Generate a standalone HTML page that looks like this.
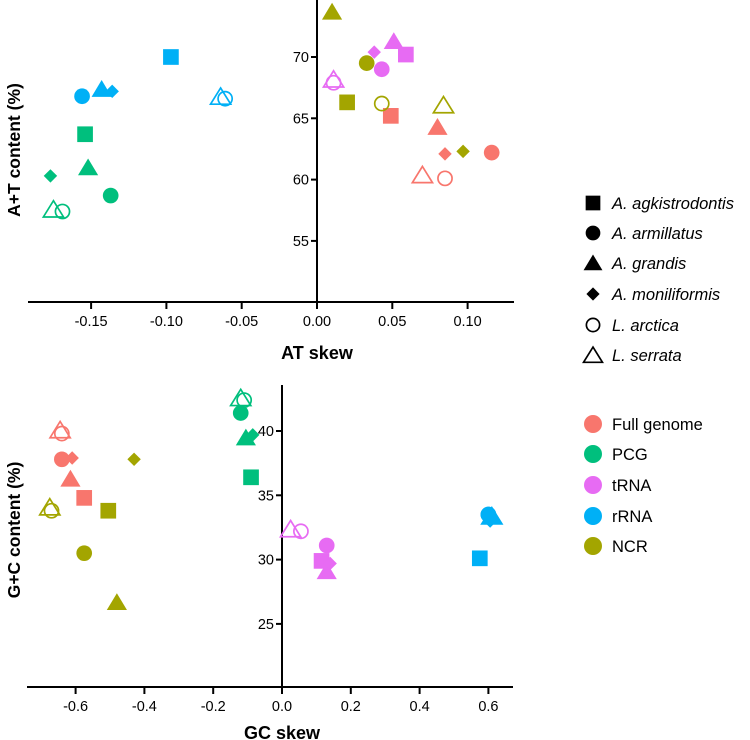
<!DOCTYPE html>
<html><head><meta charset="utf-8"><style>
html,body{margin:0;padding:0;background:#fff;}
svg{display:block;font-family:"Liberation Sans",Arial,sans-serif;}
</style></head><body>
<svg id="chart" width="750" height="740" viewBox="0 0 750 740"></svg>
<script>
const groups = ["Full genome","PCG","tRNA","rRNA","NCR"];
const groupColors = ["#F8766D","#00BF7D","#E76BF3","#00B0F6","#A3A500"];
const species = ["A. agkistrodontis","A. armillatus","A. grandis","A. moniliformis","L. arctica","L. serrata"];
const shapes = ["square","circle","triangle","diamond","ocircle","otriangle"];
// top panel: AT skew vs A+T content, index [group][species]
const atSkew = [
 [0.049,0.116,0.080,0.085,0.085,0.070],
 [-0.154,-0.137,-0.152,-0.177,-0.169,-0.175],
 [0.059,0.043,0.051,0.038,0.011,0.011],
 [-0.097,-0.156,-0.143,-0.136,-0.061,-0.064],
 [0.020,0.033,0.010,0.097,0.043,0.084]
];
const atContent = [
 [65.2,62.2,64.2,62.1,60.1,60.3],
 [63.7,58.7,60.9,60.3,57.4,57.5],
 [70.2,69.0,71.2,70.4,67.9,68.1],
 [70.0,66.8,67.3,67.2,66.6,66.7],
 [66.3,69.5,73.6,62.3,66.2,66.0]
];
// bottom panel: GC skew vs G+C content
const gcSkew = [
 [-0.575,-0.640,-0.615,-0.610,-0.640,-0.645],
 [-0.090,-0.120,-0.105,-0.085,-0.110,-0.120],
 [0.115,0.130,0.130,0.140,0.055,0.025],
 [0.575,0.600,0.610,0.605,0.600,0.610],
 [-0.505,-0.575,-0.480,-0.430,-0.670,-0.675]
];
const gcContent = [
 [34.8,37.8,36.2,37.9,39.8,40.0],
 [36.4,41.4,39.4,39.7,42.4,42.5],
 [29.9,31.1,29.0,29.7,32.2,32.3],
 [30.1,33.5,33.3,33.0,33.5,33.3],
 [33.8,30.5,26.6,37.8,33.8,34.0]
];
const topXTicks = [-0.15,-0.10,-0.05,0.00,0.05,0.10];
const topXLabels = ["-0.15","-0.10","-0.05","0.00","0.05","0.10"];
const topYTicks = [55,60,65,70];
const botXTicks = [-0.6,-0.4,-0.2,0.0,0.2,0.4,0.6];
const botXLabels = ["-0.6","-0.4","-0.2","0.0","0.2","0.4","0.6"];
const botYTicks = [25,30,35,40];

const NS="http://www.w3.org/2000/svg";
const svg=document.getElementById('chart');
function mk(tag,attrs,parent){const e=document.createElementNS(NS,tag);for(const k in attrs)e.setAttribute(k,attrs[k]);(parent||svg).appendChild(e);return e;}

const tx=v=>317+(v/0.05)*75.3;
const ty=v=>57+(70-v)/5*61.3;
const bx=v=>282+(v/0.2)*68.8;
const by=v=>431+(40-v)/5*64.3;

function marker(shape,cx,cy,color,parent,s){
  s=s||1;let e;
  if(shape==="square")e=mk('rect',{x:cx-7*s,y:cy-7*s,width:14*s,height:14*s,fill:color},parent);
  else if(shape==="circle")e=mk('circle',{cx:cx,cy:cy,r:7*s,fill:color},parent);
  else if(shape==="triangle")e=mk('polygon',{points:`${cx},${cy-9*s} ${cx+9*s},${cy+6*s} ${cx-9*s},${cy+6*s}`,fill:color},parent);
  else if(shape==="diamond")e=mk('polygon',{points:`${cx},${cy-6*s} ${cx+6*s},${cy} ${cx},${cy+6*s} ${cx-6*s},${cy}`,fill:color},parent);
  else if(shape==="ocircle")e=mk('circle',{cx:cx,cy:cy,r:6.3*s,fill:'none',stroke:color,'stroke-width':1.7},parent);
  else e=mk('polygon',{points:`${cx},${cy-8.5*s} ${cx+9*s},${cy+6*s} ${cx-9*s},${cy+6*s}`,fill:'none',stroke:color,'stroke-width':1.7},parent);
  return e;
}

function panel(name,xs,ys,fx,fy,xT,xL,yT,xAxisY,yAxisX,xMin,xMax,yTop,xTitle,yTitle,xTitleY,yTitleX,yTitleY){
  const g=mk('g',{});
  
  
  const xa=mk('line',{x1:xMin,y1:xAxisY,x2:xMax,y2:xAxisY,stroke:'#000','stroke-width':2},g);
  
  const ya=mk('line',{x1:yAxisX,y1:yTop,x2:yAxisX,y2:xAxisY,stroke:'#000','stroke-width':2},g);
  
  xT.forEach((t,i)=>{const x=fx(t);
    mk('line',{x1:x,y1:xAxisY,x2:x,y2:xAxisY+7,stroke:'#000','stroke-width':2},g);
    const l=mk('text',{x:x,y:xAxisY+24,'text-anchor':'middle','font-size':14.5,fill:'#000'},g);l.textContent=xL[i];
    });
  yT.forEach(t=>{const y=fy(t);
    mk('line',{x1:yAxisX-6,y1:y,x2:yAxisX,y2:y,stroke:'#000','stroke-width':2},g);
    const l=mk('text',{x:yAxisX-8,y:y+5,'text-anchor':'end','font-size':14.5,fill:'#000'},g);l.textContent=t;
    });
  const xt=mk('text',{x:yAxisX,y:xTitleY,'text-anchor':'middle','font-size':18,'font-weight':'bold'},g);xt.textContent=xTitle;
  
  const yt=mk('text',{x:0,y:0,'text-anchor':'middle','font-size':17.5,'font-weight':'bold',transform:`translate(${yTitleX},${yTitleY}) rotate(-90)`},g);yt.textContent=yTitle;
  
  for(let gi=0;gi<groups.length;gi++)for(let si=0;si<species.length;si++){
    const m=marker(shapes[si],fx(xs[gi][si]),fy(ys[gi][si]),groupColors[gi],g,1.12);
    
    
  }
}
panel('at-panel',atSkew,atContent,tx,ty,topXTicks,topXLabels,topYTicks,302,317,28,514,0,'AT skew','A+T content (%)',359,20,150);
panel('gc-panel',gcSkew,gcContent,bx,by,botXTicks,botXLabels,botYTicks,687,282,27,513,385,'GC skew','G+C content (%)',739,20,530);

const lg=mk('g',{});


const spY=[203,233,263,294,325,355];
species.forEach((s,i)=>{
  const m=marker(shapes[i],593,spY[i]+(shapes[i].includes('triangle')?1:0),'#000',lg,i===3?1.1:1.05);
  
  const t=mk('text',{x:612,y:spY[i]+6,'font-size':16.5,'font-style':'italic'},lg);t.textContent=s;
  
});
const cg=mk('g',{});


const gY=[424,454,485,516,546];
groups.forEach((s,i)=>{
  const m=mk('circle',{cx:593,cy:gY[i],r:9,fill:groupColors[i]},cg);
  
  const t=mk('text',{x:612,y:gY[i]+6,'font-size':16.5},cg);t.textContent=s;
  
});
</script>
</body></html>
